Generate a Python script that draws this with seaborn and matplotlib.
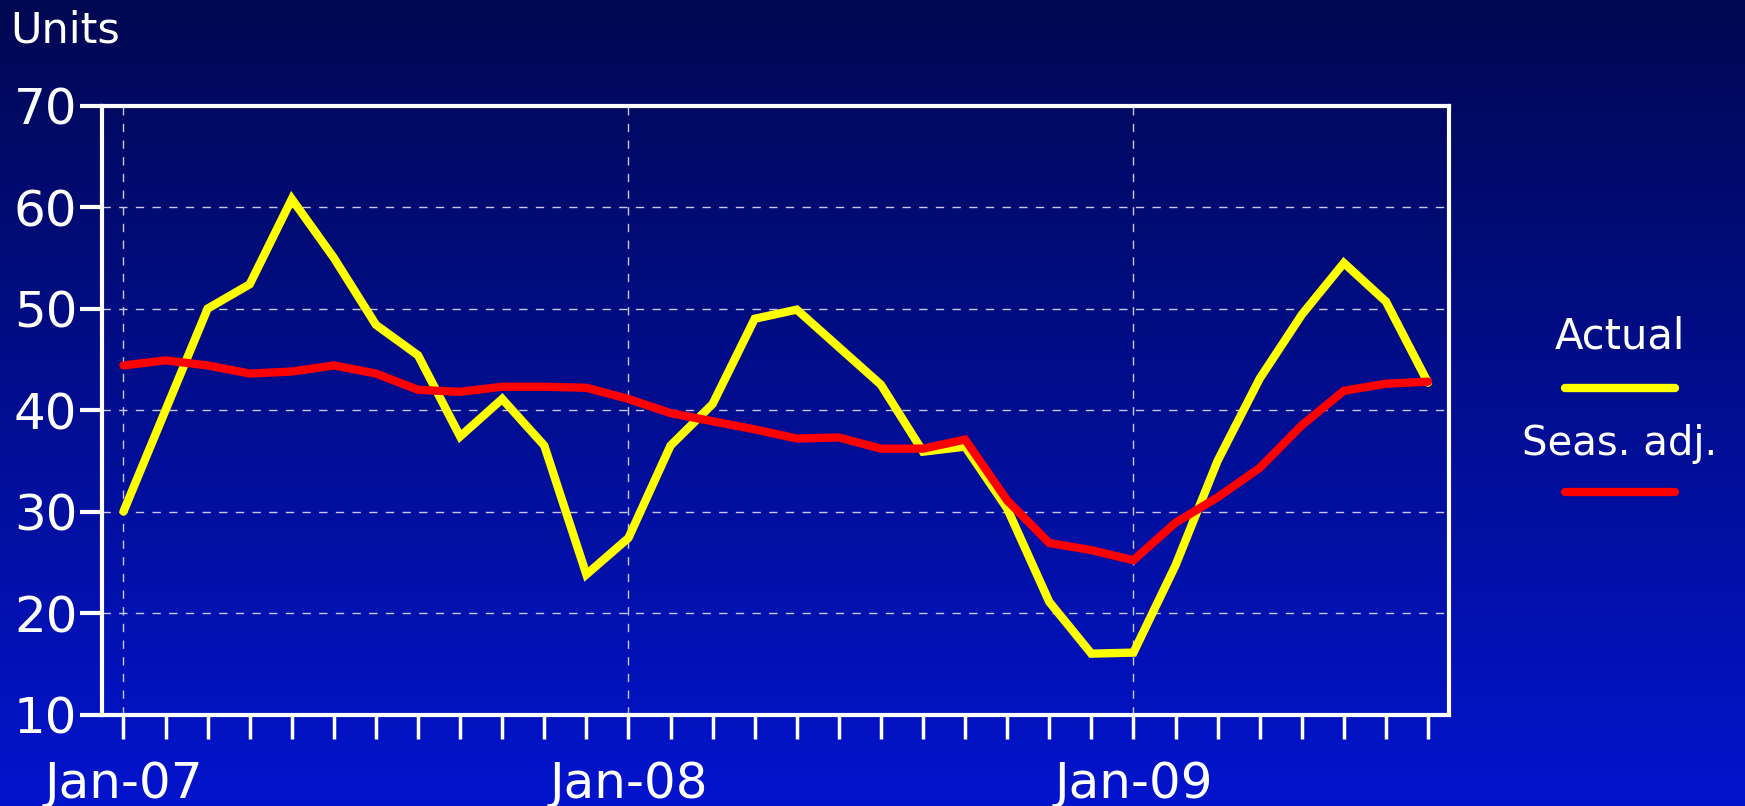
import numpy as np
import pandas as pd
import seaborn as sns
import matplotlib.pyplot as plt
from matplotlib.lines import Line2D

# monthly data, Jan-07 .. Aug-09
months = pd.date_range('2007-01-01', periods=32, freq='MS').strftime('%b-%y').tolist()
actual = [30.0, 40.0, 50.0, 52.4, 60.8, 55.0, 48.4, 45.4, 37.4, 41.1, 36.5, 23.8,
          27.4, 36.5, 40.6, 49.0, 49.9, 46.2, 42.5, 35.9, 36.4, 30.3, 21.1, 16.0,
          16.1, 24.7, 35.0, 43.1, 49.4, 54.5, 50.7, 42.7]
seas_adj = [44.4, 44.9, 44.4, 43.6, 43.8, 44.4, 43.6, 42.0, 41.8, 42.3, 42.3, 42.2,
            41.1, 39.7, 38.9, 38.1, 37.2, 37.3, 36.2, 36.2, 37.1, 31.1, 26.9, 26.2,
            25.2, 28.9, 31.4, 34.3, 38.5, 41.9, 42.6, 42.8]
yticks = [10, 20, 30, 40, 50, 60, 70]
colors = {'Actual': '#FFFF00', 'Seas. adj.': '#FF0000'}

df = pd.DataFrame({
    'idx': list(range(len(months))) * 2,
    'value': actual + seas_adj,
    'series': ['Actual'] * len(actual) + ['Seas. adj.'] * len(seas_adj),
})

sns.set_style('white')
plt.rcParams['font.family'] = ['DejaVu Sans']

fig = plt.figure(figsize=(17.45, 8.06), dpi=100)

# gradient background
bg = fig.add_axes([0, 0, 1, 1], zorder=-10)
top = np.array([0, 8, 82]) / 255
bot = np.array([3, 20, 205]) / 255
t = np.linspace(0, 1, 256)[:, None]
grad = top[None, :] * (1 - t) + bot[None, :] * t
bg.imshow(grad[:, None, :], aspect='auto', extent=[0, 1, 0, 1])
bg.axis('off')

ax = fig.add_axes([0.0587, 0.1135, 0.7717, 0.7554])
ax.set_facecolor('none')

sns.lineplot(data=df, x='idx', y='value', hue='series', palette=colors,
             linewidth=6, legend=False, ax=ax, solid_capstyle='round', solid_joinstyle='miter')

ax.set_xlim(-0.5, len(months) - 0.5)
ax.set_ylim(10, 70)
ax.set_yticks(yticks)
ax.set_xticks([i for i, m in enumerate(months) if m.startswith('Jan')])
ax.set_xticklabels([m for m in months if m.startswith('Jan')])
ax.set_xticks(range(len(months)), minor=True)
ax.set_xlabel('')
ax.set_ylabel('')

for s in ax.spines.values():
    s.set_color('white')
    s.set_linewidth(3)

ax.tick_params(axis='x', which='both', bottom=True, direction='out', length=17, width=2.5,
               color='white', labelcolor='white', labelsize=36, pad=16)
ax.tick_params(axis='y', left=True, direction='out', length=16, width=3,
               color='white', labelcolor='white', labelsize=36, pad=2)
ax.grid(True, which='major', linestyle=(0, (6, 6)), color='#c8c8e6', linewidth=1)

fig.text(0.006, 0.962, 'Units', color='white', fontsize=31, ha='left', va='center')

# legend on the right
fig.text(0.928, 0.582, 'Actual', color='white', fontsize=30, ha='center', va='center')
fig.add_artist(Line2D([0.897, 0.960], [0.518, 0.518], color=colors['Actual'],
                      linewidth=6, solid_capstyle='round'))
fig.text(0.928, 0.449, 'Seas. adj.', color='white', fontsize=29, ha='center', va='center')
fig.add_artist(Line2D([0.897, 0.960], [0.389, 0.389], color=colors['Seas. adj.'],
                      linewidth=6, solid_capstyle='round'))

fig.savefig('out.png', dpi=100)
